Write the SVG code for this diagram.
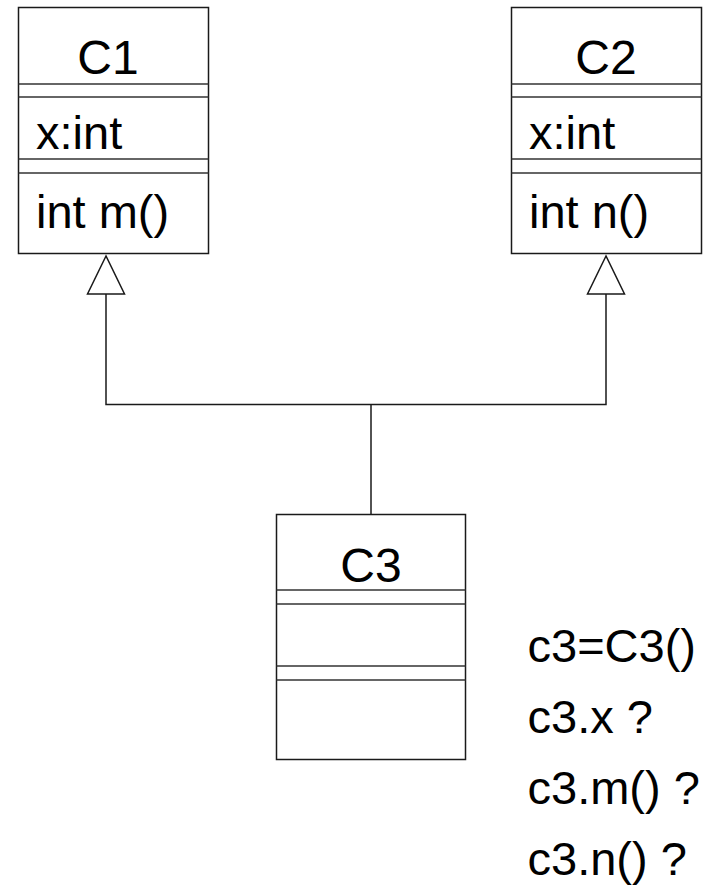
<svg xmlns="http://www.w3.org/2000/svg" width="705" height="885" viewBox="0 0 705 885">
  <style>
    .box { fill: #ffffff; stroke: #1a1a1a; stroke-width: 1.5; }
    .sep { stroke: #333333; stroke-width: 1.5; }
    .wire { fill: none; stroke: #1a1a1a; stroke-width: 1.5; }
    .head { fill: #ffffff; stroke: #1a1a1a; stroke-width: 1.5; stroke-linejoin: miter; }
    text { font-family: "Liberation Sans", Arial, Helvetica, sans-serif; font-size: 47px; fill: #000000; }
    .title { text-anchor: middle; font-size: 48px; }
  </style>
  <rect width="705" height="885" fill="#ffffff"/>

  <!-- generalisation connectors -->
  <g id="connectors">
    <polyline class="wire" points="106,294 106,404.5 606,404.5 606,294"/>
    <line class="wire" x1="371" y1="404.5" x2="371" y2="514"/>
    <polygon class="head" points="106,256 87.5,294 124.5,294"/>
    <polygon class="head" points="606,256 587.5,294 624.5,294"/>
  </g>

  <!-- class C1 -->
  <g id="C1">
    <rect class="box" x="18.5" y="7.5" width="190" height="246"/>
    <line class="sep" x1="18.5" y1="84" x2="208.5" y2="84"/>
    <line class="sep" x1="18.5" y1="97" x2="208.5" y2="97"/>
    <line class="sep" x1="18.5" y1="159" x2="208.5" y2="159"/>
    <line class="sep" x1="18.5" y1="173" x2="208.5" y2="173"/>
    <text class="title" x="108" y="74">C1</text>
    <text x="36" y="149">x:int</text>
    <text x="36" y="228">int m()</text>
  </g>

  <!-- class C2 -->
  <g id="C2">
    <rect class="box" x="511.5" y="7.5" width="190" height="246"/>
    <line class="sep" x1="511.5" y1="84" x2="701.5" y2="84"/>
    <line class="sep" x1="511.5" y1="97" x2="701.5" y2="97"/>
    <line class="sep" x1="511.5" y1="159" x2="701.5" y2="159"/>
    <line class="sep" x1="511.5" y1="173" x2="701.5" y2="173"/>
    <text class="title" x="606" y="74">C2</text>
    <text x="529" y="149">x:int</text>
    <text x="529" y="228">int n()</text>
  </g>

  <!-- class C3 -->
  <g id="C3">
    <rect class="box" x="276.5" y="514.5" width="189" height="245"/>
    <line class="sep" x1="276.5" y1="590" x2="465.5" y2="590"/>
    <line class="sep" x1="276.5" y1="604" x2="465.5" y2="604"/>
    <line class="sep" x1="276.5" y1="666" x2="465.5" y2="666"/>
    <line class="sep" x1="276.5" y1="680" x2="465.5" y2="680"/>
    <text class="title" x="371" y="582">C3</text>
  </g>

  <!-- usage notes -->
  <g id="notes">
    <text x="527.5" y="662">c3=C3()</text>
    <text x="527.5" y="733">c3.x ?</text>
    <text x="527.5" y="804">c3.m() ?</text>
    <text x="527.5" y="875">c3.n() ?</text>
  </g>
</svg>
